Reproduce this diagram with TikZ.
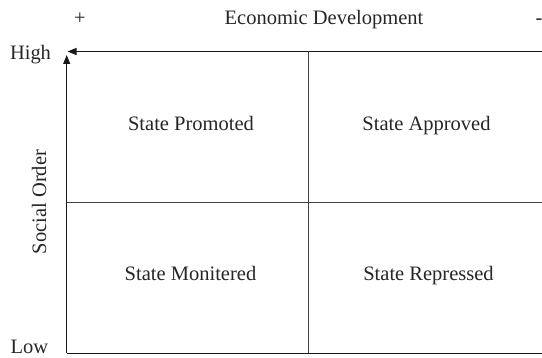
\documentclass[tikz,border=0pt]{standalone}
\usepackage{fontspec}
\setmainfont{Liberation Serif}
\usetikzlibrary{arrows.meta}
\begin{document}
\begin{tikzpicture}[x=1pt,y=-1pt,
  axis/.style={line width=0.9pt,draw=black!90},
  grid/.style={line width=0.9pt,draw=black!75},
  tip/.style={-{Triangle[length=9pt,width=7pt]}},
  lbl/.style={inner sep=0pt,anchor=base,text=black!85,font=\fontsize{20.5}{24}\selectfont},
  sidelbl/.style={lbl}]
\useasboundingbox (0,0) rectangle (542,358);
% frame corners
\coordinate (tr) at (542,51.5);
\coordinate (tl) at (67.5,51.5);
\coordinate (bl) at (66.7,353.3);
\coordinate (br) at (542,353.3);
\coordinate (vt) at (66.7,55);
\coordinate (mt) at (308.7,51.5);
\coordinate (mb) at (308.7,353.3);
\coordinate (ml) at (66.7,202.7);
\coordinate (mr) at (542,202.7);
% axes with arrows
\draw[axis,tip] (tr) -- (tl);
\draw[axis,tip] (bl) -- (vt);
\draw[axis] (bl) -- (br);
% quadrant dividers
\draw[grid] (mt) -- (mb);
\draw[grid] (ml) -- (mr);
% axis labels
\node[sidelbl] (plus) at (80,24.5) {+};
\node[sidelbl] (econ) at (324,25) {Economic Development};
\node[sidelbl] (minus) at (539,24.5) {-};
\node[sidelbl] (high) at (30.5,60) {High};
\node[sidelbl] (low) at (29.5,354) {Low};
\node[sidelbl,rotate=90] (social) at (46,202) {Social Order};
% quadrant labels
\node[lbl] (promoted) at (191,131) {State Promoted};
\node[lbl] (approved) at (426.5,131) {State Approved};
\node[lbl] (monitored) at (190.5,281) {State Monitered};
\node[lbl] (repressed) at (428.5,281) {State Repressed};
\end{tikzpicture}
\end{document}
